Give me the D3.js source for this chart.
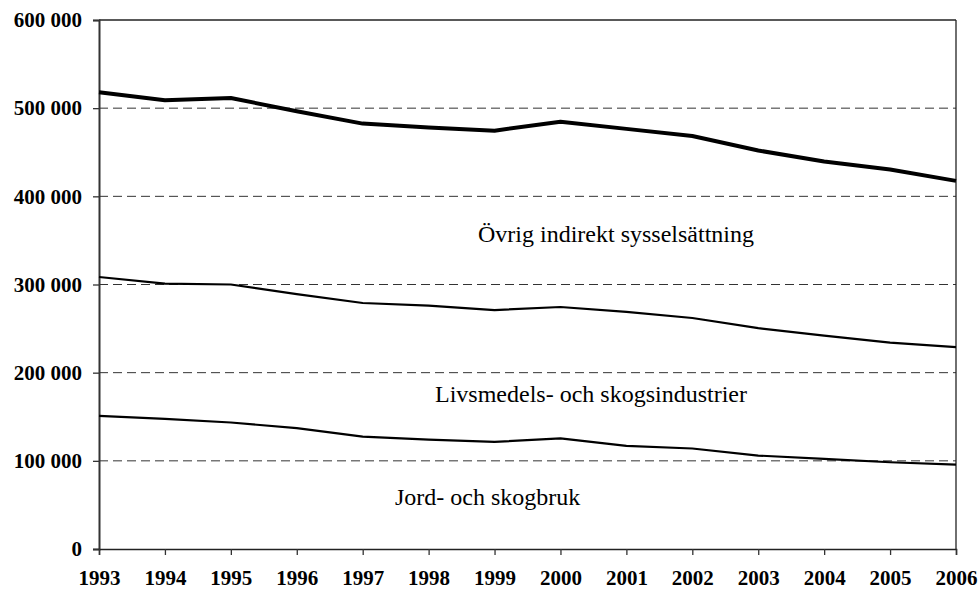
<!DOCTYPE html>
<html>
<head>
<meta charset="utf-8">
<script src="https://cdn.jsdelivr.net/npm/d3@7"></script>
<style>
  html, body { margin: 0; padding: 0; background: #fff; }
  svg { display: block; }
</style>
</head>
<body>
<svg id="chart" width="978" height="591"></svg>
<script>
const years = [1993,1994,1995,1996,1997,1998,1999,2000,2001,2002,2003,2004,2005,2006];
const ovrig = [518000,509000,511500,496500,482500,478000,474500,484500,476500,468500,452000,439500,430500,417500];
const livsmedel = [308500,301000,300000,289000,279000,276000,271000,274500,269000,262000,250500,242000,234000,229000];
const jord = [151000,147500,143500,137000,127500,124000,121500,125500,117000,114000,106000,102300,98400,95800];
const yTicks = [0,100000,200000,300000,400000,500000,600000];
const seriesLabels = ["Övrig indirekt sysselsättning","Livsmedels- och skogsindustrier","Jord- och skogbruk"];

(function () {
const svg = d3.select("#chart");
const pLeft = 99, pRight = 956, pTop = 20, pBottom = 549;
const SERIF = '"Liberation Serif", "Times New Roman", Tinos, serif';

const x = d3.scalePoint().domain(years).range([pLeft, pRight]);
const y = d3.scaleLinear().domain([0, 600000]).range([pBottom, pTop]);

const fmt = v => d3.format(",")(v).replace(/,/g, " ");

// gridlines
svg.append("g").selectAll("line").data(yTicks.filter(t => t > 0 && t < 600000)).join("line")
  .attr("x1", pLeft).attr("x2", pRight)
  .attr("y1", d => y(d)).attr("y2", d => y(d))
  .attr("stroke", "#333").attr("stroke-width", 1).attr("stroke-dasharray", "9,5");

// plot frame top and right
svg.append("line").attr("x1", pLeft).attr("x2", pRight).attr("y1", y(600000)).attr("y2", y(600000))
  .attr("stroke", "#222").attr("stroke-width", 1.3);
svg.append("line").attr("x1", pRight).attr("x2", pRight).attr("y1", y(600000)).attr("y2", y(0))
  .attr("stroke", "#222").attr("stroke-width", 1.3);

// y axis
const yAxis = d3.axisLeft(y).tickValues(yTicks).tickFormat(fmt).tickSize(6).tickPadding(11);
const gy = svg.append("g").attr("transform", `translate(${pLeft},0)`).call(yAxis);
gy.select(".domain").attr("stroke", "#333").attr("stroke-width", 2);
gy.selectAll(".tick line").attr("stroke", "#333").attr("stroke-width", 1.3);
gy.selectAll("text").style("font-family", SERIF).style("font-weight", "bold").style("font-size", "21px").attr("fill", "#000");

// x axis
const xAxis = d3.axisBottom(x).tickSize(6).tickPadding(15).tickFormat(d3.format("d"));
const gx = svg.append("g").attr("transform", `translate(0,${pBottom})`).call(xAxis);
gx.select(".domain").attr("stroke", "#222").attr("stroke-width", 1.5);
gx.selectAll(".tick line").attr("stroke", "#333").attr("stroke-width", 1.3);
gx.selectAll("text").style("font-family", SERIF).style("font-weight", "bold").style("font-size", "21px").attr("fill", "#000");

// lines
const line = d3.line().x((d, i) => x(years[i])).y(d => y(d));
const series = [
  {vals: ovrig, w: 4},
  {vals: livsmedel, w: 2.2},
  {vals: jord, w: 2.2}
];
svg.append("g").selectAll("path").data(series).join("path")
  .attr("d", d => line(d.vals))
  .attr("fill", "none").attr("stroke", "#000")
  .attr("stroke-width", d => d.w).attr("stroke-linejoin", "round");

// annotations
const ann = [
  {t: seriesLabels[0], x: 478, v: 348500},
  {t: seriesLabels[1], x: 435, v: 166500},
  {t: seriesLabels[2], x: 395, v: 49500}
];
svg.append("g").selectAll("text").data(ann).join("text")
  .attr("x", d => d.x).attr("y", d => y(d.v))
  .style("font-family", SERIF).style("font-size", "24px").attr("fill", "#000")
  .text(d => d.t);
})();
</script>
</body>
</html>
